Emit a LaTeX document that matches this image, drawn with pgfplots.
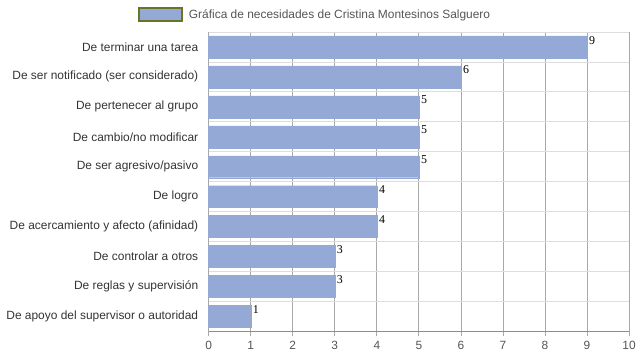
\documentclass[border=0pt]{standalone}
\usepackage{pgfplots}
\pgfplotsset{compat=1.18}
\usepackage{fontspec}
\setmainfont{Liberation Sans}
\newfontfamily\serifnum{Liberation Serif}
\definecolor{barfill}{HTML}{95A9D6}
\definecolor{legborder}{HTML}{6B7424}
\definecolor{vgrid}{HTML}{A8A8A8}
\definecolor{hgrid}{HTML}{DDDDDD}
\definecolor{axisline}{HTML}{8C8C8C}
\definecolor{ticktext}{HTML}{555555}
\definecolor{cattext}{HTML}{333333}
\begin{document}
\begin{tikzpicture}
\path (0,0) rectangle (639bp,360bp);
\begin{axis}[
  at={(209bp,28bp)}, anchor=south west,
  scale only axis, width=421bp, height=300bp,
  xbar, bar width=22bp,
  xmin=0, xmax=10, xtick={0,...,10},
  ymin=-0.5, ymax=9.5, y dir=reverse,
  ytick={0,...,9},
  yticklabels={De terminar una tarea,De ser notificado (ser considerado),De pertenecer al grupo,De cambio/no modificar,De ser agresivo/pasivo,De logro,De acercamiento y afecto (afinidad),De controlar a otros,De reglas y supervisión,De apoyo del supervisor o autoridad},
  minor ytick={-0.5,0.5,...,9.5},
  yminorgrids, xmajorgrids,
  minor grid style={hgrid, line width=0.8bp},
  major grid style={vgrid, line width=0.8bp},
  axis line style={draw=none},
  axis x line*=bottom,
  x axis line style={draw=axisline, line width=0.8bp},
  y axis line style={draw=none},
  xtick style={draw=vgrid, line width=0.8bp},
  xtick align=outside, major tick length=5bp,
  ytick style={draw=none},
  minor tick length=0pt,
  xticklabel style={font=\fontsize{12}{14}\selectfont, text=ticktext, yshift=-1bp},
  yticklabel style={font=\fontsize{12}{14}\selectfont, text=cattext, xshift=-2bp},
  /pgf/number format/assume math mode=true,
  nodes near coords,
  every node near coord/.append style={font=\serifnum\fontsize{12}{14}\selectfont, text=black, anchor=north west, inner sep=0pt, xshift=2bp, yshift=11bp},
  legend style={at={(axis description cs:-0.1686,1.0567)}, anchor=west, draw=none, fill=none, inner sep=0pt, font=\fontsize{12}{14}\selectfont, text=ticktext},
  legend image code/.code={\draw[fill=barfill, draw=legborder, line width=2bp] (0bp,-6.5bp) rectangle (43bp,6.5bp); \path[draw=none, fill=none] (0bp,0bp) rectangle (48bp,0.1bp);},
  clip=false,
]
\addplot[fill=barfill, draw=barfill] coordinates {
(9,0) (6,1) (5,2) (5,3) (5,4) (4,5) (4,6) (3,7) (3,8) (1,9)};
\addlegendentry{Gráfica de necesidades de Cristina Montesinos Salguero}
\end{axis}
\end{tikzpicture}
\end{document}
